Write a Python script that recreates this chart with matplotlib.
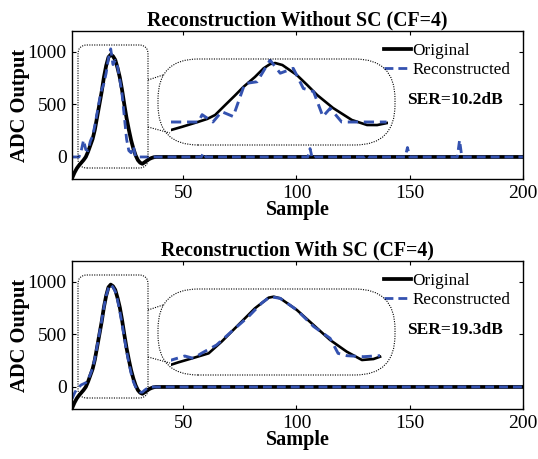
import numpy as np
import matplotlib
matplotlib.use('Agg')
import matplotlib.pyplot as plt
from matplotlib.patches import FancyBboxPatch

plt.rcParams['font.family'] = ['Liberation Serif', 'DejaVu Serif']

# ---- main signals (sample 1..200) ----
samples = np.arange(1, 201)

orig_head = [-200, -150, -110, -80, -55, -30, 0, 50, 110, 170,
             260, 380, 500, 620, 760, 870, 950, 975, 960, 925,
             850, 760, 640, 500, 370, 260, 160, 80, 15, -30,
             -55, -65, -50, -35, -20, -10, -3, 0]

rec_nosc_head = [0, 0, 0, 0, 60, 160, 70, 60, 150, 200,
                 300, 420, 540, 640, 700, 800, 940, 1030, 880, 920,
                 860, 740, 600, 380, 170, 60, 40, 100, 0, 0]
# isolated spikes on the flat part (sample, value)
nosc_spike_pos = [59, 106, 107, 131, 149, 172]
nosc_spike_val = [40, 80, -15, 20, 90, 160]

rec_sc_head = [-110, -60, -20, 0, 20, 30, 40, 70, 120, 180,
               270, 390, 510, 630, 760, 870, 940, 975, 950, 910,
               830, 720, 600, 470, 340, 230, 130, 50, 0, -30,
               -50, -50, -30, -15, -5, 0]

# ---- zoomed insets (sample, value) ----
in1_orig_s = [4.0, 5.5, 7.7, 9.0, 10.1, 11.5, 12.8, 14.0, 15.6, 16.8, 17.7, 18.4, 19.4, 21.4, 22.8, 24.2, 26.4, 29.0, 31.1, 32.5, 33.9]
in1_orig_v = [-131, -80, 0, 50, 115, 279, 430, 574, 738, 880, 950, 967, 934, 770, 610, 443, 230, 33, -49, -50, -16]
in1_rec_s = [4.0, 7.8, 8.3, 9.8, 11.0, 12.6, 14.2, 15.9, 17.7, 19.1, 20.9, 22.3, 23.7, 25.0, 26.0, 27.6, 33.8]
in1_rec_v = [0, 0, 120, 0, 170, 90, 630, 660, 1015, 800, 880, 550, 500, 90, 225, 0, 0]

in2_orig_s = [3.2, 5.0, 6.9, 9.2, 11.0, 13.3, 15.6, 17.5, 18.2, 19.1, 21.4, 23.7, 26.0, 28.3, 30.4, 32.0, 32.9]
in2_orig_v = [-240, -170, -104, -22, 170, 443, 716, 891, 907, 880, 689, 443, 197, 5, -131, -115, -77]
in2_rec_s = [3.6, 5.9, 7.1, 8.2, 10.3, 12.6, 14.7, 16.5, 17.7, 19.1, 21.4, 23.7, 26.0, 27.1, 28.3, 30.6, 32.9]
in2_rec_v = [-148, -66, -104, -22, 115, 361, 579, 798, 907, 880, 689, 420, 224, -22, -60, -77, -60]

titles = ['Reconstruction Without SC (CF=4)', 'Reconstruction With SC (CF=4)']
ser_labels = ['SER=10.2dB', 'SER=19.3dB']


def full(head):
    y = np.zeros(len(samples))
    y[:len(head)] = head
    return y


original = full(orig_head)
rec_nosc = full(rec_nosc_head)
for p, v in zip(nosc_spike_pos, nosc_spike_val):
    rec_nosc[p - 1] = v
rec_sc = full(rec_sc_head)

BLUE = '#3452b0'
W, H = 538, 459
fig = plt.figure(figsize=(W / 100, H / 100), dpi=100)


def px_rect(x0, y0, x1, y1):
    # pixel box (top-left origin) -> figure fraction rect
    return [x0 / W, (H - y1) / H, (x1 - x0) / W, (y1 - y0) / H]


panels = [
    (rec_nosc, in1_orig_s, in1_orig_v, in1_rec_s, in1_rec_v, 0),
    (rec_sc, in2_orig_s, in2_orig_v, in2_rec_s, in2_rec_v, 230),
]

for i, (rec, ios, iov, irs, irv, dy) in enumerate(panels):
    ax = fig.add_axes(px_rect(72.2, 31 + dy, 523, 179 + dy))
    ax.plot(samples, original, color='black', lw=2.7, label='Original')
    ax.plot(samples, rec, color=BLUE, lw=2.0, ls=(0, (3.2, 1.8)), label='Reconstructed')
    ax.set_xlim(1, 200)
    ax.set_ylim(-210, 1200)
    ax.set_xticks([50, 100, 150, 200])
    ax.set_yticks([0, 500, 1000])
    ax.tick_params(direction='in', top=True, right=True, labelsize=14, length=3, width=0.8, pad=4)
    for sp in ax.spines.values():
        sp.set_linewidth(1.0)
    ax.set_title(titles[i], fontsize=14.3, fontweight='bold', pad=4)
    ax.set_xlabel('Sample', fontsize=14.5, fontweight='bold', labelpad=-1)
    ax.set_ylabel('ADC Output', fontsize=14.8, fontweight='bold', labelpad=-1.5)
    ax.legend(loc='upper right', frameon=False, fontsize=12.3, handlelength=1.55,
              handletextpad=0.08, labelspacing=0.18, borderaxespad=0.3,
              bbox_to_anchor=(0.998, 1.0))
    ax.text(0.742, 0.535, ser_labels[i], transform=ax.transAxes, fontsize=12.5,
            fontweight='bold', ha='left', va='center')

    # zoomed inset
    ia = fig.add_axes(px_rect(171, 59 + dy, 388, 145 + dy))
    ia.plot(ios, iov, color='black', lw=1.9)
    ia.plot(irs, irv, color=BLUE, lw=2.1, ls=(0, (3.5, 2.0)))
    ia.set_xlim(4, 34)
    ia.set_ylim(-377, 1033)
    ia.axis('off')
    ia.patch.set_alpha(0)

# overlay for the dotted zoom boxes and connectors (pixel coordinates)
ov = fig.add_axes([0, 0, 1, 1], zorder=5)
ov.set_xlim(0, W)
ov.set_ylim(0, H)
ov.axis('off')
ov.patch.set_alpha(0)
dot = dict(fill=False, ec='black', lw=0.8, ls=(0, (1, 1.2)))
for dy in (0, 230):
    ov.add_patch(FancyBboxPatch((78, H - 168 - dy), 70, 123,
                                boxstyle='round,pad=0,rounding_size=9', **dot))
    ov.add_patch(FancyBboxPatch((158, H - 145 - dy), 237, 86,
                                boxstyle='round,pad=0,rounding_size=40', **dot))
    ov.plot([148, 163], [H - 80 - dy, H - 75 - dy], color='black', lw=0.8, ls=(0, (1, 1.2)))
    ov.plot([148, 170], [H - 127 - dy, H - 133 - dy], color='black', lw=0.8, ls=(0, (1, 1.2)))

fig.savefig('out.png', dpi=100)
